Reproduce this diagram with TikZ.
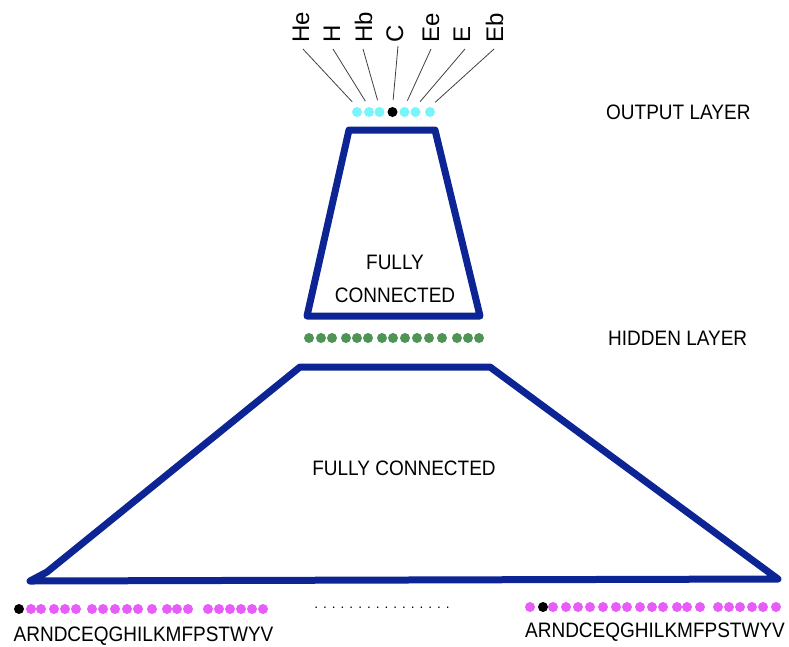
\documentclass[tikz,border=0pt]{standalone}
\usepackage{fontspec}
\setmainfont{Liberation Sans}
\definecolor{trapblue}{RGB}{12,36,148}
\definecolor{outcyan}{RGB}{118,246,250}
\definecolor{hidgreen}{RGB}{78,148,84}
\definecolor{inmag}{RGB}{232,92,250}
\newcommand\talltext[1]{\scalebox{1}[1.1]{#1}}
\begin{document}
\begin{tikzpicture}[x=1pt,y=-1pt,
  trap/.style={draw=trapblue,line width=7pt,line join=round,line cap=round},
  dotnode/.style={circle,inner sep=0pt,outer sep=0pt,minimum size=10pt,draw=none},
  lbl/.style={font=\fontsize{19}{22}\selectfont,inner sep=0pt},
  outlbl/.style={font=\fontsize{24}{26}\selectfont,inner sep=0pt,rotate=90,anchor=base west},
  lead/.style={draw=black!75,line width=0.8pt,shorten >=7pt}]
\useasboundingbox (0,0) rectangle (789,646);

% trapezoids
\draw[trap] (349,130) -- (435,130) -- (480,316) -- (307,316) -- cycle;
\draw[trap] (30,581) -- (778,579) -- (490,367) -- (300,367) -- (47,572) -- cycle;

% output layer
\foreach \x/\c [count=\i] in {357/outcyan,369/outcyan,379.5/outcyan,392.5/black,404.5/outcyan,415.5/outcyan,430/outcyan}
  \node[dotnode,fill=\c] (o\i) at (\x,112) {};

\node[outlbl] (t1) at (309,43) {He};
\node[outlbl] (t2) at (340,43) {H};
\node[outlbl] (t3) at (372,43) {Hb};
\node[outlbl] (t4) at (403,43) {C};
\node[outlbl] (t5) at (439,43) {Ee};
\node[outlbl] (t6) at (470,43) {E};
\node[outlbl] (t7) at (503,43) {Eb};

\coordinate (c1) at (303,49);
\coordinate (c2) at (333,49);
\coordinate (c3) at (363,49);
\coordinate (c4) at (398,46);
\coordinate (c5) at (431,49);
\coordinate (c6) at (465,49);
\coordinate (c7) at (494,49);
\foreach \i in {1,...,7} \draw[lead] (c\i) -- (o\i.north);

% hidden layer
\foreach \x [count=\i] in {309,321,332,346,357,368,382,393,405,417,429,442,457,468,479}
  \node[dotnode,fill=hidgreen] (h\i) at (\x,338) {};

% input layer left
\node[dotnode,fill=black] (lb) at (19,609) {};
\foreach \x [count=\i] in {31,41,54,65,76,92,103,115,127,138,152,167,177,188,208,219,230,241,252,263}
  \node[dotnode,fill=inmag] (l\i) at (\x,609) {};

% input layer right
\node[dotnode,fill=inmag] (r0) at (530,607) {};
\node[dotnode,fill=black] (rb) at (543,607) {};
\foreach \x [count=\i] in {553,566,578,590,603,616,627,640,652,663,677,687,700,718,729,740,752,763,776}
  \node[dotnode,fill=inmag] (r\i) at (\x,607) {};

% texts
\node[lbl,anchor=west] (outl) at (606,112) {\talltext{OUTPUT LAYER}};
\node[lbl,anchor=west] (hidl) at (608,338) {\talltext{HIDDEN LAYER}};
\node[lbl,align=center,font=\fontsize{19}{33}\selectfont] (fc1) at (395,278.5) {\talltext{FULLY}\\\talltext{CONNECTED}};
\node[lbl] (fc2) at (404,468) {\talltext{FULLY CONNECTED}};
\node[lbl] (aal) at (143.5,636) {\talltext{ARNDCEQGHILKMFPSTWYV}};
\node[lbl] (aar) at (655,632) {\talltext{ARNDCEQGHILKMFPSTWYV}};
\node[font=\fontsize{13.5}{14}\selectfont,anchor=base,inner sep=0pt] (gap) at (382,608) {. . . . . . . . . . . . . . . .};
\end{tikzpicture}
\end{document}
